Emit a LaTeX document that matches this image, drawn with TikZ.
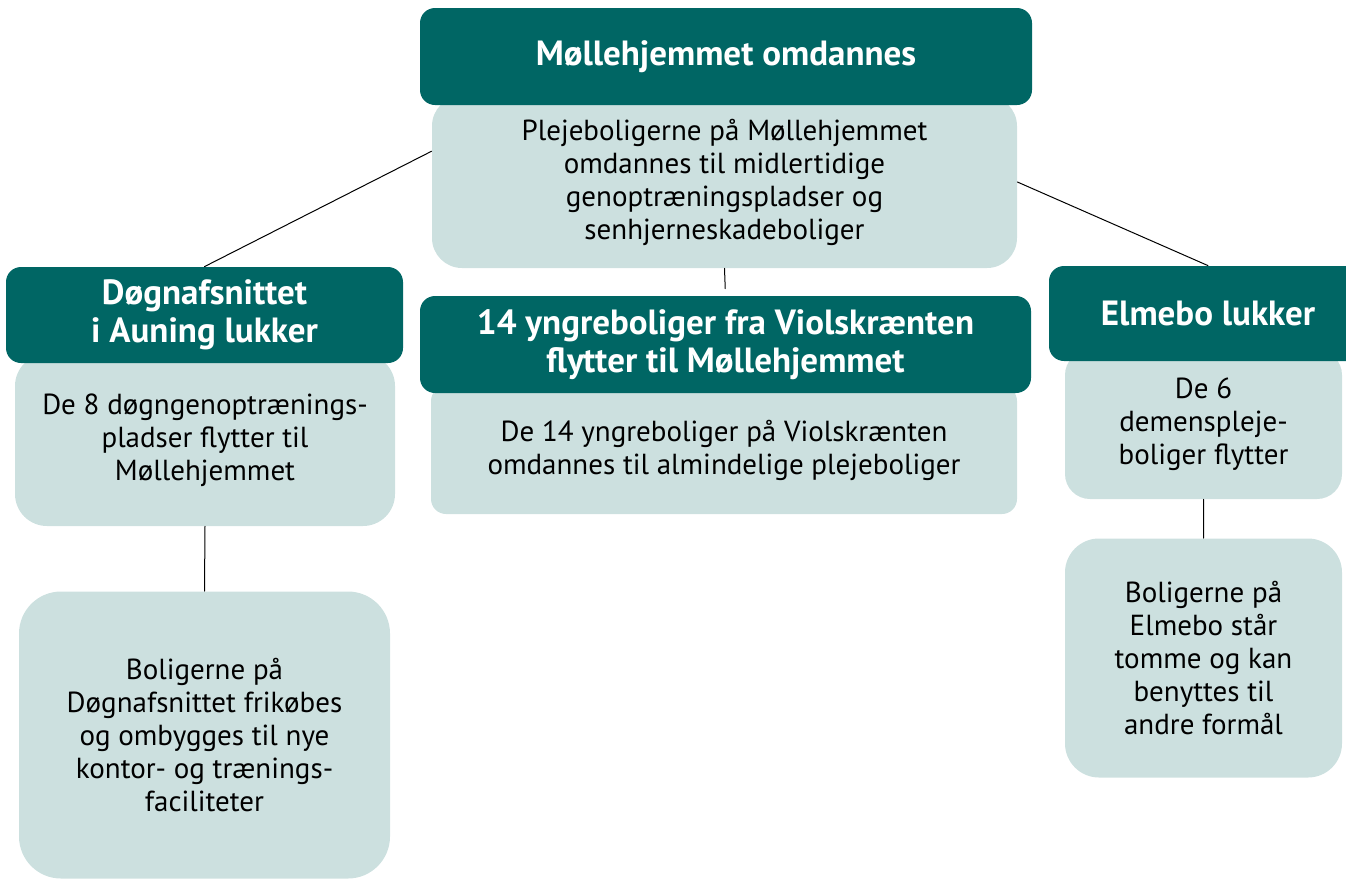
\documentclass[tikz,border=0pt]{standalone}
\usepackage{fontspec}
\setmainfont{PT Sans}
\definecolor{petrol}{RGB}{0,102,100}
\definecolor{lyspetrol}{RGB}{204,224,223}
\begin{document}
\begin{tikzpicture}[x=.5pt, y=-.5pt, line join=round, line cap=round,
		hdr/.style={fill=petrol, text=white, rounded corners=7.5pt, inner sep=0pt, align=center, font=\fontsize{17.5}{19}\selectfont\bfseries},
		body/.style={fill=lyspetrol, text=black, inner sep=0pt, align=center, font=\fontsize{14.5}{16.5}\selectfont},
		con/.style={draw=black, line width=.5pt}]
		\useasboundingbox (0,0) rectangle (1346,880);
		% light boxes
		\node[body, rounded corners=15pt, minimum width=292.5pt, minimum height=86pt] (topB) at (724.5,182) {Plejeboligerne på Møllehjemmet\\omdannes til midlertidige\\genoptræningspladser og\\senhjerneskadeboliger};
		\node[body, rounded corners=16pt, minimum width=190pt, minimum height=86pt] (leftB) at (205,440) {De 8 døgngenoptrænings-\\pladser flytter til\\Møllehjemmet};
		\node[body, rounded corners=21pt, minimum width=185.5pt, minimum height=143.5pt] (leftC) at (204.5,735) {Boligerne på\\Døgnafsnittet frikøbes\\og ombygges til nye\\kontor- og trænings-\\faciliteter};
		\node[body, rounded corners=7.5pt, minimum width=293pt, minimum height=64pt] (midB) at (724,450) {De 14 yngreboliger på Violskrænten\\omdannes til almindelige plejeboliger};
		\node[body, rounded corners=12.5pt, minimum width=138.5pt, minimum height=74.5pt] (rightB) at (1203.5,424.5) {De 6\\demenspleje-\\boliger flytter};
		\node[body, rounded corners=17pt, minimum width=138.5pt, minimum height=119.5pt] (rightC) at (1203.5,658) {Boligerne på\\Elmebo står\\tomme og kan\\benyttes til\\andre formål};
		% headers
		\node[hdr, minimum width=306pt, minimum height=48.5pt] (topH) at (726,56.5) {Møllehjemmet omdannes};
		\node[hdr, minimum width=198.5pt, minimum height=48pt] (leftH) at (204.5,315) {Døgnafsnittet\\i Auning lukker};
		\node[hdr, minimum width=305.5pt, minimum height=48.5pt] (midH) at (725.5,344.5) {14 yngreboliger fra Violskrænten\\flytter til Møllehjemmet};
		\node[hdr, minimum width=159pt, minimum height=47.5pt] (rightH) at (1208,313.5) {Elmebo lukker};
		% lines
		\draw[con] (topB.174)--(leftH.north);
		\draw[con] (topB.east)--(rightH.north);
		\draw[con, shorten >=3.5pt] (topB.south)--(midH.north);
		\draw[con] (leftB.south)--(leftC.north) (rightB.south)--(rightC.north);
	\end{tikzpicture}
\end{document}
